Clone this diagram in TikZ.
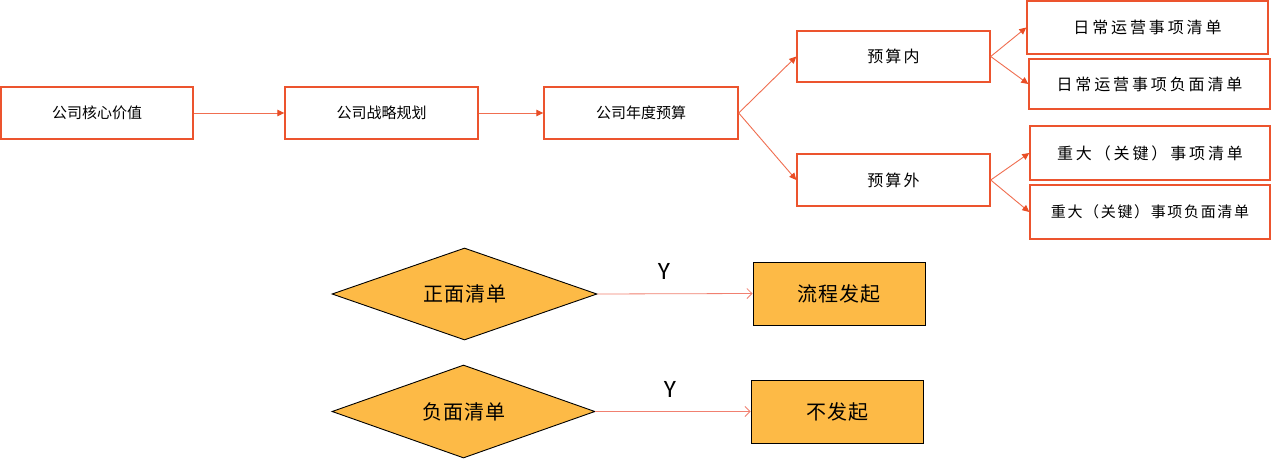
\documentclass[tikz,border=0pt]{standalone}
\usepackage{fontspec}
\usetikzlibrary{shapes.geometric,arrows.meta}
\newfontfamily\cjk{Noto Sans CJK SC}
\newfontfamily\cjka[LetterSpace=0]{Noto Sans CJK SC}
\newfontfamily\cjkm[LetterSpace=14]{Noto Sans CJK SC}
\newfontfamily\cjkb[LetterSpace=18]{Noto Sans CJK SC}
\newfontfamily\cjkc[LetterSpace=11]{Noto Sans CJK SC}
\newfontfamily\cjkd[LetterSpace=5]{Noto Sans CJK SC}
\newfontfamily\lat{Carlito}
\definecolor{boxred}{RGB}{236,84,46}
\definecolor{arrred}{RGB}{240,110,80}
\definecolor{tipred}{RGB}{233,78,38}
\definecolor{salmon}{RGB}{241,128,112}
\definecolor{gold}{RGB}{253,186,70}
\tikzset{
  topbox/.style={draw=boxred, line width=1.4pt, rectangle, inner sep=0pt, font=\cjka\fontsize{15}{17}\selectfont},
  midbox/.style={draw=boxred, line width=1.4pt, rectangle, inner sep=0pt, font=\cjkm\fontsize{16}{18}\selectfont},
  rbox/.style={draw=boxred, line width=1.4pt, rectangle, inner sep=0pt, font=\cjkb\fontsize{16}{18}\selectfont},
  rboxs/.style={draw=boxred, line width=1.4pt, rectangle, inner sep=0pt, font=\cjkc\fontsize{15}{17}\selectfont},
  topar/.style={draw=arrred, line width=0.9pt, -{Triangle[length=7pt,width=6.5pt,fill=tipred,color=tipred]}},
  dia/.style={diamond, draw=black, fill=gold, line width=0.9pt, inner sep=0pt, font=\cjkd\fontsize{20}{22}\selectfont},
  gbox/.style={rectangle, draw=black, fill=gold, line width=1pt, inner sep=0pt, font=\cjkd\fontsize{20}{22}\selectfont},
  botar/.style={draw=salmon, line width=0.8pt, -{Straight Barb[length=5pt,width=10pt]}},
  ylab/.style={font=\lat\fontsize{25}{27}\selectfont, inner sep=0pt}
}
\begin{document}
\begin{tikzpicture}[x=1pt,y=-1pt]
\useasboundingbox[fill=white] (0,0) rectangle (1271,460);
\node[topbox, minimum width=192pt, minimum height=52pt] (a) at (97,113) {公司核心价值};
\node[topbox, minimum width=193pt, minimum height=52pt] (b) at (381.5,113) {公司战略规划};
\node[topbox, minimum width=194pt, minimum height=52pt] (c) at (641,113) {公司年度预算};
\node[midbox, minimum width=193pt, minimum height=51pt] (in) at (893.5,56.5) {预算内};
\node[midbox, minimum width=193pt, minimum height=52pt] (out) at (893.5,180) {预算外};
\node[rbox, minimum width=241pt, minimum height=53pt] (r1) at (1147.5,27.5) {日常运营事项清单};
\node[rbox, minimum width=241pt, minimum height=50pt] (r2) at (1149.5,84) {日常运营事项负面清单};
\node[rbox, minimum width=240pt, minimum height=54pt] (r3) at (1150,153) {重大（关键）事项清单};
\node[rboxs, minimum width=240pt, minimum height=54pt] (r4) at (1150,212) {重大（关键）事项负面清单};
\draw[topar] (a.east) -- (b.west);
\draw[topar] (b.east) -- (c.west);
\draw[topar] (c.east) -- (in.west);
\draw[topar] (c.east) -- (out.west);
\draw[topar] (in.east) -- (r1.west);
\draw[topar] (in.east) -- (r2.west);
\draw[topar] (out.east) -- (r3.west);
\draw[topar] (out.east) -- (r4.west);
\node[dia, minimum width=265pt, minimum height=92pt, aspect=2.88] (d1) at (464.5,294) {正面清单};
\node[dia, minimum width=263pt, minimum height=93pt, aspect=2.83] (d2) at (463.5,411.5) {负面清单};
\node[gbox, minimum width=172pt, minimum height=63pt] (g1) at (839,293.5) {流程发起};
\node[gbox, minimum width=172pt, minimum height=63pt] (g2) at (837,411.5) {不发起};
\draw[botar] (d1.east) -- (g1.west);
\draw[botar] (d2.east) -- (g2.west);
\node[ylab] (y1) at (664,271) {Y};
\node[ylab] (y2) at (670,389) {Y};
\end{tikzpicture}
\end{document}
